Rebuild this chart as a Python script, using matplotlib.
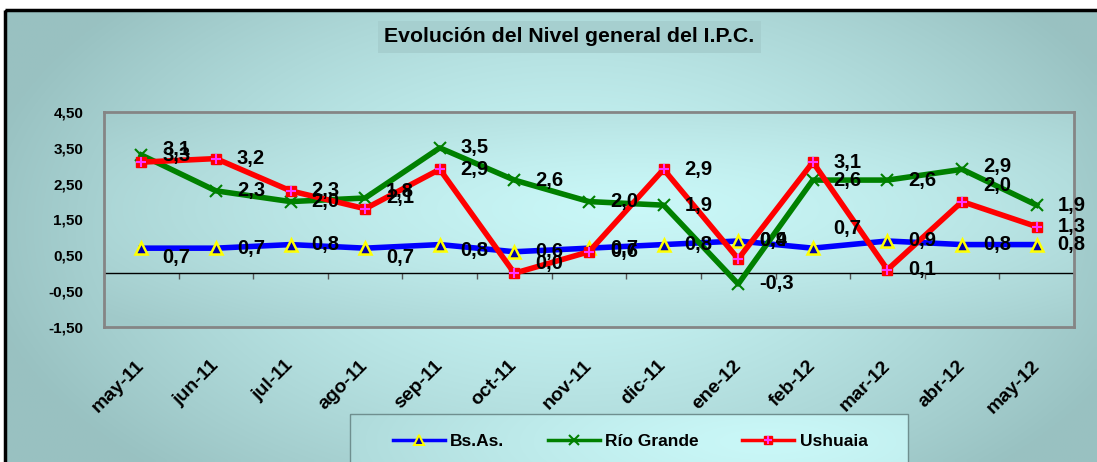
import numpy as np
from matplotlib import pyplot as plt
from matplotlib.lines import Line2D
from matplotlib.patches import Rectangle
from matplotlib.legend_handler import HandlerTuple

plt.rcParams['font.family'] = ['Liberation Sans', 'DejaVu Sans']
plt.rcParams['font.weight'] = 'bold'

TITLE = "Evolución del Nivel general del I.P.C."

months = ['may-11', 'jun-11', 'jul-11', 'ago-11', 'sep-11', 'oct-11', 'nov-11',
          'dic-11', 'ene-12', 'feb-12', 'mar-12', 'abr-12', 'may-12']
bsas = [0.7, 0.7, 0.8, 0.7, 0.8, 0.6, 0.7, 0.8, 0.9, 0.7, 0.9, 0.8, 0.8]
rio_grande = [3.3, 2.3, 2.0, 2.1, 3.5, 2.6, 2.0, 1.9, -0.3, 2.6, 2.6, 2.9, 1.9]
ushuaia = [3.1, 3.2, 2.3, 1.8, 2.9, 0.0, 0.6, 2.9, 0.4, 3.1, 0.1, 2.0, 1.3]
y_ticks = [-1.5, -0.5, 0.5, 1.5, 2.5, 3.5, 4.5]

W, H = 1097, 462
PLOT = (104, 112, 1074, 327)   # left, top, right, bottom in pixels

# vertical shifts (px, down positive) of a few data labels, as placed in the original
NUDGE = {
    ('bs', 0): 9, ('bs', 3): 9, ('bs', 4): 6, ('bs', 9): -20,
    ('us', 0): -13, ('us', 3): -17, ('us', 5): -10, ('us', 8): -18, ('us', 11): -16,
    ('rg', 11): -3,
}


def gradient(w, h, cx, cy, rx, ry, light, dark, power=1.4):
    xx, yy = np.meshgrid(np.linspace(0, 1, w), np.linspace(0, 1, h))
    d = np.sqrt(((xx - cx) / rx) ** 2 + ((yy - cy) / ry) ** 2)
    d = np.clip(d, 0, 1) ** power
    light = np.array(light)
    dark = np.array(dark)
    return light[None, None, :] + (dark - light)[None, None, :] * d[:, :, None]


def comma(v, fmt):
    return fmt.format(v).replace('.', ',')


def draw_background(fig):
    bg = fig.add_axes([0, 0, 1, 1], zorder=-1)
    bg.set_axis_off()

    # chart area
    img = gradient(200, 100, 0.52, 0.48, 0.55, 0.75,
                   (0.79, 0.97, 0.97), (0.60, 0.76, 0.76))
    bg.imshow(img, extent=(5, W, H, 10), aspect='auto', interpolation='bilinear')
    bg.add_patch(Rectangle((5, 10), W + 10, H + 10, fill=False,
                           edgecolor='black', linewidth=2.5))

    # plot area
    l, t, r, b = PLOT
    img = gradient(200, 100, 0.55, 0.45, 0.7, 0.8,
                   (0.79, 0.97, 0.97), (0.63, 0.79, 0.79))
    bg.imshow(img, extent=(l, r, b, t), aspect='auto', interpolation='bilinear')

    # legend box
    img = gradient(200, 20, 0.75, 0.4, 0.9, 2.0,
                   (0.79, 0.97, 0.97), (0.66, 0.83, 0.83))
    bg.imshow(img, extent=(350, 908, H + 20, 414), aspect='auto', interpolation='bilinear')
    bg.add_patch(Rectangle((350, 414), 558, 60, fill=False,
                           edgecolor='#6f8f8f', linewidth=1))

    bg.text(569, 37, TITLE, ha='center', va='center', fontsize=15.3, fontweight='bold',
            bbox=dict(boxstyle='square,pad=0.3', facecolor='#a6cfcf', edgecolor='none'))
    bg.set_xlim(0, W)
    bg.set_ylim(H, 0)


def main():
    fig = plt.figure(figsize=(W / 100, H / 100), dpi=100)
    draw_background(fig)

    l, t, r, b = PLOT
    ax = fig.add_axes([l / W, 1 - b / H, (r - l) / W, (b - t) / H])
    ax.patch.set_alpha(0)

    x = np.arange(len(months))
    ymin, ymax = y_ticks[0], y_ticks[-1]

    ax.axhline(0, color='black', linewidth=1, zorder=1)

    ax.plot(x, bsas, color='#0000ff', linewidth=4, marker='^', markersize=8.5,
            markerfacecolor='#0000aa', markeredgecolor='#ffff00',
            markeredgewidth=1.8, zorder=3)
    ax.plot(x, rio_grande, color='#008000', linewidth=4, marker='x', markersize=8,
            markeredgecolor='#008000', markeredgewidth=1.5, zorder=4)
    ax.plot(x, ushuaia, color='#ff0000', linewidth=4, marker='s', markersize=7,
            markerfacecolor='#ff0000', markeredgecolor='#ff0000', zorder=5)
    ax.plot(x, ushuaia, linestyle='none', marker='+', markersize=7,
            markeredgecolor='#ff33ff', markeredgewidth=1.5, zorder=6)

    for key, vals in (('bs', bsas), ('rg', rio_grande), ('us', ushuaia)):
        for i, v in enumerate(vals):
            dy = NUDGE.get((key, i), 0) * 0.72
            ax.annotate(comma(v, "{:.1f}"), (x[i], v), xytext=(15, -dy),
                        textcoords='offset points', ha='left', va='center',
                        fontsize=14.5, fontweight='bold', color='black', zorder=7)

    ax.set_xlim(-0.5, len(months) - 0.5)
    ax.set_ylim(ymin, ymax)

    ax.set_yticks(y_ticks)
    ax.set_yticklabels([comma(v, "{:.2f}") for v in y_ticks])
    ax.tick_params(axis='y', length=0, pad=15, labelsize=11)

    ax.set_xticks(x)
    ax.set_xticklabels(months, rotation=45, ha='right', va='center',
                       rotation_mode='anchor', fontsize=14, fontweight='bold')
    ax.tick_params(axis='x', length=0, pad=26)

    for s in ax.spines.values():
        s.set_color('#858585')
        s.set_linewidth(2)

    # category ticks on the zero line
    secax = ax.secondary_xaxis((0 - ymin) / (ymax - ymin))
    secax.set_xticks(np.arange(-0.5, len(months)))
    secax.tick_params(axis='x', direction='out', length=4, width=1,
                      color='#555555', labelbottom=False)
    secax.spines['bottom'].set_visible(False)

    h_bs = Line2D([], [], color='#0000ff', linewidth=2.5, marker='^', markersize=7,
                  markerfacecolor='#0000aa', markeredgecolor='#ffff00', markeredgewidth=1.5)
    h_rg = Line2D([], [], color='#008000', linewidth=2.5, marker='x', markersize=7,
                  markeredgecolor='#008000', markeredgewidth=1.5)
    h_us = Line2D([], [], color='#ff0000', linewidth=2.5, marker='s', markersize=6,
                  markerfacecolor='#ff0000', markeredgecolor='#ff0000')
    h_usp = Line2D([], [], linestyle='none', marker='+', markersize=6,
                   markeredgecolor='#ff33ff', markeredgewidth=1.5)

    fig.legend([h_bs, h_rg, (h_us, h_usp)], ['Bs.As.', 'Río Grande', 'Ushuaia'],
               handler_map={tuple: HandlerTuple(ndivide=1)},
               loc='center left', bbox_to_anchor=(393 / W, 1 - 441 / H), ncol=3,
               frameon=False, borderpad=0, borderaxespad=0, handlelength=3.0,
               handletextpad=0.3, columnspacing=2.5,
               prop={'size': 12.5, 'weight': 'bold'})

    fig.savefig('out.png', dpi=100)


if __name__ == "__main__":
    main()
